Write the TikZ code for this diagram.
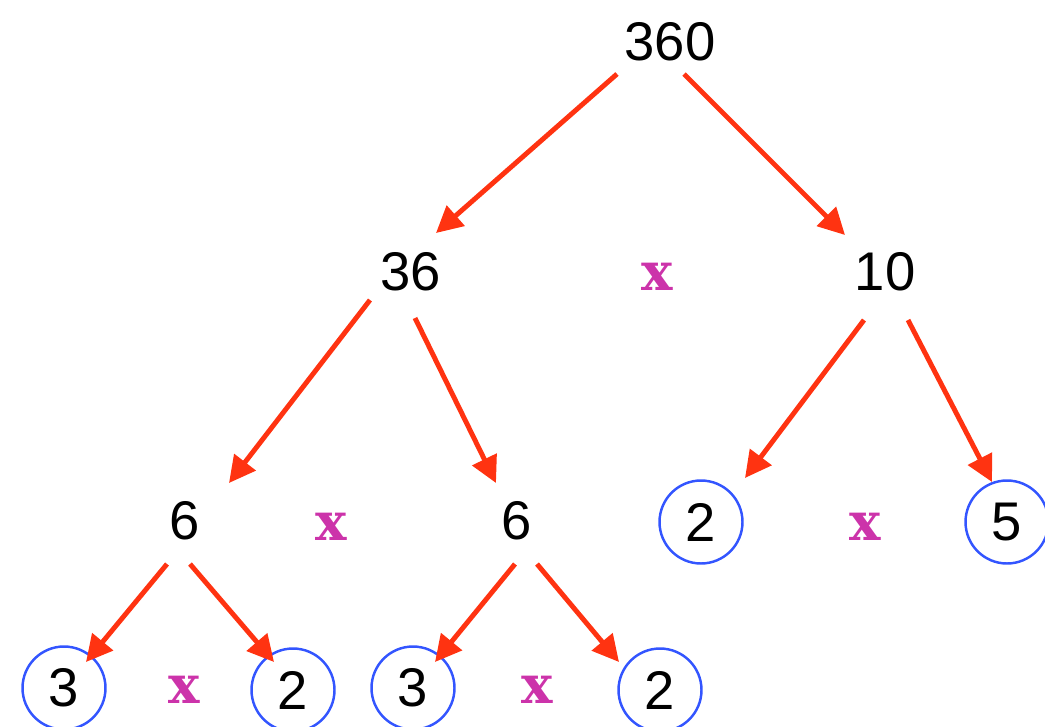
\documentclass[tikz,border=0pt]{standalone}
\usepackage{fontspec}
\setmainfont{Liberation Sans}
\newfontfamily\xfont{DejaVu Serif}
\usetikzlibrary{arrows.meta}
\definecolor{arrred}{HTML}{FF3311}
\definecolor{xmag}{HTML}{CC33AA}
\definecolor{cblue}{HTML}{3355FF}
\begin{document}
\begin{tikzpicture}[x=0.02cm,y=-0.02cm,
  num/.style={inner sep=0pt,font=\fontsize{31}{31}\selectfont},
  prime/.style={num,circle,draw=cblue,line width=1.4pt,minimum size=1.66cm},
  times/.style={inner sep=0pt,text=xmag,font=\xfont\bfseries\fontsize{30}{30}\selectfont},
  arr/.style={draw=arrred,line width=2.8pt,-{Triangle[length=15pt,width=15pt]}}]
\useasboundingbox (0,0) rectangle (1045,727);
\node[num] (n360) at (670,42) {360};
\node[num] (n36) at (411,272) {36};
\node[num] (n10) at (885,272) {10};
\node[times] (x1) at (657,277) {x};
\node[num] (n6a) at (185,521) {6};
\node[num] (n6b) at (517,521) {6};
\node[times] (x2) at (331,527) {x};
\node[prime] (p2a) at (701,522) {2};
\node[times] (x3) at (865,527) {x};
\node[prime] (p5) at (1007,522) {5};
\node[prime] (p3a) at (64,688) {3};
\node[times] (x4) at (184,690) {x};
\node[prime] (p2b) at (293,690) {2};
\node[prime] (p3b) at (413,688) {3};
\node[times] (x5) at (537,690) {x};
\node[prime] (p2c) at (660,690) {2};
\draw[arr] ([shift={(-53,32)}]n360.center) -- ([shift={(25,-39)}]n36.center);
\draw[arr] ([shift={(14,32)}]n360.center) -- ([shift={(-40,-37)}]n10.center);
\draw[arr] ([shift={(-41,28)}]n36.center) -- ([shift={(44,-38)}]n6a.center);
\draw[arr] ([shift={(4,46)}]n36.center) -- ([shift={(-21,-38)}]n6b.center);
\draw[arr] ([shift={(-21,48)}]n10.center) -- ([shift={(44,-44)}]p2a.center);
\draw[arr] ([shift={(23,48)}]n10.center) -- ([shift={(-15,-40)}]p5.center);
\draw[arr] ([shift={(-18,43)}]n6a.center) -- ([shift={(22,-26)}]p3a.center);
\draw[arr] ([shift={(5,43)}]n6a.center) -- ([shift={(-19,-28)}]p2b.center);
\draw[arr] ([shift={(-2,43)}]n6b.center) -- ([shift={(22,-26)}]p3b.center);
\draw[arr] ([shift={(20,43)}]n6b.center) -- ([shift={(-41,-28)}]p2c.center);
\end{tikzpicture}
\end{document}
